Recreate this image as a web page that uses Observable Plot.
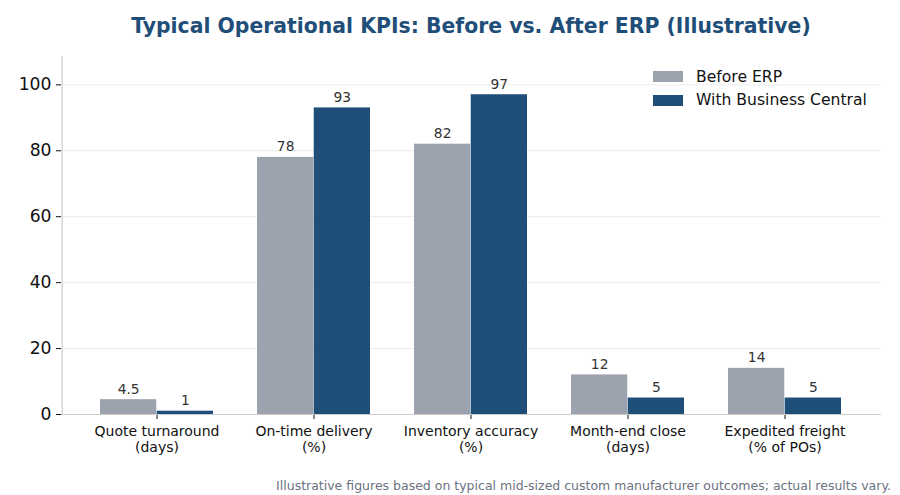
<!DOCTYPE html>
<html>
<head>
<meta charset="utf-8">
<script src="https://cdn.jsdelivr.net/npm/d3@7"></script>
<script src="https://cdn.jsdelivr.net/npm/@observablehq/plot@0.6"></script>
<style>
  body { margin: 0; background: #fff; font-family: "DejaVu Sans", sans-serif; }
  #wrap { position: relative; width: 900px; height: 495px; overflow: hidden; }
  #title { position: absolute; left: 61px; width: 820px; top: 14px; text-align: center;
           font-weight: bold; font-size: 20.4px; color: #1f4e79; }
  #note { position: absolute; right: 9px; top: 478px; font-size: 12.5px; color: #6b7280; }
  #legend { position: absolute; left: 653px; top: 65px; font-size: 15.6px; color: #111; }
  .row { display: flex; align-items: center; height: 23.5px; }
  .sw { width: 30px; height: 11px; margin-right: 13px; }
  #chart { position: absolute; left: 0; top: 0; }
</style>
</head>
<body>
<div id="wrap">
  <div id="chart"></div>
  <div id="title">Typical Operational KPIs: Before vs. After ERP (Illustrative)</div>
  <div id="legend"></div>
  <div id="note">Illustrative figures based on typical mid-sized custom manufacturer outcomes; actual results vary.</div>
</div>
<script>
const categories = ["Quote turnaround\n(days)", "On-time delivery\n(%)", "Inventory accuracy\n(%)", "Month-end close\n(days)", "Expedited freight\n(% of POs)"];
const seriesNames = ["Before ERP", "With Business Central"];
const before = [4.5, 78, 82, 12, 14];
const after = [1, 93, 97, 5, 5];
const yTicks = [0, 20, 40, 60, 80, 100];
const colors = ["#9ca3ae", "#1f4e79"];

const W = 900, H = 495, mL = 61, mR = 19, mT = 56, mB = 81;
const padIn = 0.28, padOut = 0.242;
const bw = d3.scaleBand().domain(categories).range([mL, W - mR]).paddingInner(padIn).paddingOuter(padOut).bandwidth();
const half = bw / 2;

const rows = categories.flatMap((c, i) => [
  {cat: c, series: seriesNames[0], value: before[i]},
  {cat: c, series: seriesNames[1], value: after[i]}
]);
const bRows = rows.filter(d => d.series === seriesNames[0]);
const aRows = rows.filter(d => d.series === seriesNames[1]);

const plot = Plot.plot({
  width: W, height: H,
  marginLeft: mL, marginRight: mR, marginTop: mT, marginBottom: mB,
  style: {fontFamily: "DejaVu Sans, sans-serif", fontSize: "17.2px", color: "#111", background: "#fff"},
  x: {type: "band", domain: categories, paddingInner: padIn, paddingOuter: padOut, tickFormat: () => "", tickSize: 5, label: null},
  y: {domain: [0, 108.6], ticks: yTicks, tickSize: 5, tickPadding: 5, label: null},
  color: {domain: seriesNames, range: colors},
  marks: [
    Plot.ruleY(yTicks.slice(1), {stroke: "#ebebeb", strokeWidth: 1}),
    Plot.barY(bRows, {x: "cat", y: "value", fill: "series", insetRight: half}),
    Plot.barY(aRows, {x: "cat", y: "value", fill: "series", insetLeft: half}),
    Plot.text(bRows, {x: "cat", y: "value", text: d => String(d.value), dx: -half / 2, dy: -6, lineAnchor: "bottom", fill: "#333", fontSize: 13.8}),
    Plot.text(aRows, {x: "cat", y: "value", text: d => String(d.value), dx: half / 2, dy: -6, lineAnchor: "bottom", fill: "#333", fontSize: 13.8}),
    Plot.text(categories, {x: d => d, text: d => d, frameAnchor: "bottom", dy: 11, lineAnchor: "top", lineHeight: 1.1, fill: "#111", fontSize: 14}),
    Plot.ruleY([0], {stroke: "#cccccc", strokeWidth: 1.2}),
    Plot.ruleX([categories[0]], {dx: -(bw / 2) - padOut * (bw / (1 - padIn)), stroke: "#cccccc", strokeWidth: 1.2})
  ]
});
document.getElementById("chart").appendChild(plot);

const leg = document.getElementById("legend");
seriesNames.forEach((s, i) => {
  const r = document.createElement("div");
  r.className = "row";
  r.innerHTML = `<div class="sw" style="background:${colors[i]}"></div><span>${s}</span>`;
  leg.appendChild(r);
});
</script>
</body>
</html>
